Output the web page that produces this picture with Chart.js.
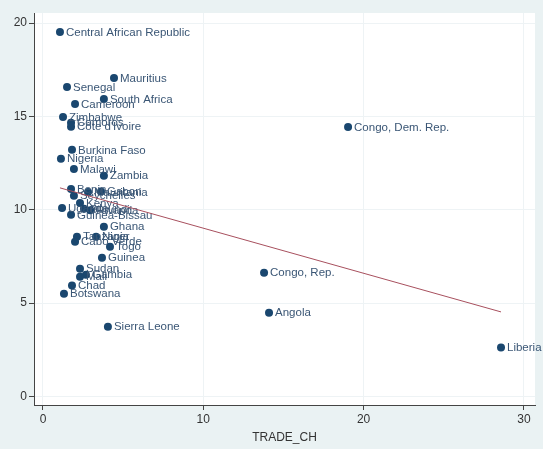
<!DOCTYPE html>
<html>
<head>
<meta charset="utf-8">
<script src="https://cdn.jsdelivr.net/npm/chart.js@4.4.1/dist/chart.umd.min.js"></script>
<style>
  html, body { margin: 0; padding: 0; background: #eaf2f3; }
  #wrap { width: 543px; height: 449px; }
</style>
</head>
<body>
<div id="wrap"><canvas id="c" width="543" height="449"></canvas></div>
<script>
// Country names, trade change (x) and outcome (y)
const countries = [
  "Central African Republic", "Mauritius", "Senegal", "South Africa", "Cameroon",
  "Zimbabwe", "Comoros", "Côte d'Ivoire", "Burkina Faso", "Nigeria", "Malawi", "Zambia",
  "Benin", "Mauritania", "Gabon", "Seychelles", "Kenya", "Uganda", "Burundi", "Rwanda",
  "Guinea-Bissau", "Ghana", "Tanzania", "Niger", "Cabo Verde", "Togo", "Guinea",
  "Sudan", "Gambia", "Mali", "Chad", "Botswana", "Sierra Leone",
  "Congo, Dem. Rep.", "Congo, Rep.", "Angola", "Liberia"
];
const tradeCh = [
  1.06, 4.43, 1.50, 3.80, 2.00,
  1.25, 1.75, 1.75, 1.81, 1.12, 1.93, 3.80,
  1.75, 2.81, 3.62, 1.93, 2.31, 1.19, 2.56, 2.95,
  1.75, 3.80, 2.12, 3.31, 2.00, 4.18, 3.68,
  2.31, 2.68, 2.31, 1.81, 1.31, 4.05,
  19.03, 13.79, 14.10, 28.57
];
const outcome = [
  19.52, 17.06, 16.58, 15.94, 15.67,
  14.97, 14.66, 14.45, 13.21, 12.73, 12.19, 11.82,
  11.12, 10.95, 10.98, 10.75, 10.37, 10.10, 10.05, 9.98,
  9.73, 9.09, 8.56, 8.56, 8.29, 8.02, 7.43,
  6.84, 6.52, 6.42, 5.94, 5.51, 3.74,
  14.44, 6.63, 4.49, 2.62
];

// Linear fit of outcome on TRADE_CH
const fitIntercept = 11.43;
const fitSlope = -0.2415;

const xTicks = [0, 10, 20, 30];
const yTicks = [0, 5, 10, 15, 20];
const xTitle = "TRADE_CH";

const points = tradeCh.map((x, i) => ({ x: x, y: outcome[i] }));
const xMin = Math.min(...tradeCh), xMax = Math.max(...tradeCh);
const fitLine = [xMin, xMax].map(x => ({ x: x, y: fitIntercept + fitSlope * x }));

const NAVY = '#1a476f';
const LABEL = '#3a5675';
const FONT = '"Liberation Sans", Arial, sans-serif';

const backdrop = {
  id: 'backdrop',
  beforeDraw(chart) {
    const { ctx, chartArea: a } = chart;
    ctx.save();
    ctx.fillStyle = '#eaf2f3';
    ctx.fillRect(0, 0, chart.width, chart.height);
    ctx.fillStyle = '#ffffff';
    ctx.fillRect(a.left, a.top, a.right - a.left, a.bottom - a.top);
    ctx.restore();
  }
};

const markerLabels = {
  id: 'markerLabels',
  afterDatasetDraw(chart, args) {
    if (args.index !== 0) return;
    const { ctx } = chart;
    const meta = chart.getDatasetMeta(0);
    ctx.save();
    ctx.font = '11.5px ' + FONT;
    ctx.fillStyle = LABEL;
    ctx.textBaseline = 'middle';
    ctx.textAlign = 'left';
    meta.data.forEach((pt, i) => {
      ctx.fillText(countries[i], pt.x + 6, pt.y + 0.5);
    });
    ctx.restore();
  }
};

new Chart(document.getElementById('c'), {
  data: {
    datasets: [
      {
        type: 'scatter',
        data: points,
        order: 2,
        pointRadius: 4,
        pointHoverRadius: 4,
        pointBackgroundColor: NAVY,
        pointBorderWidth: 0,
        borderColor: NAVY
      },
      {
        type: 'line',
        data: fitLine,
        order: 1,
        borderColor: '#a8505e',
        borderWidth: 1,
        pointRadius: 0,
        fill: false,
        tension: 0
      }
    ]
  },
  options: {
    responsive: false,
    animation: false,
    events: [],
    layout: { padding: { top: 13, right: 8, left: 0, bottom: 0 } },
    plugins: { legend: { display: false }, tooltip: { enabled: false } },
    scales: {
      x: {
        type: 'linear',
        min: -0.56,
        max: 30.69,
        afterBuildTicks: s => { s.ticks = xTicks.map(v => ({ value: v })); },
        afterFit: s => { s.height = 44; },
        grid: { color: '#eef3f5', tickColor: '#444', tickLength: 5, drawTicks: true },
        border: { color: '#444', width: 1 },
        ticks: { color: '#333', font: { family: FONT, size: 12 }, padding: 2, maxRotation: 0 },
        title: { display: true, text: xTitle, color: '#333', font: { family: FONT, size: 12 }, padding: { top: 0, bottom: 4 } }
      },
      y: {
        type: 'linear',
        min: -0.455,
        max: 20.54,
        afterBuildTicks: s => { s.ticks = yTicks.map(v => ({ value: v })); },
        afterFit: s => { s.width = 34; },
        grid: { color: '#eef3f5', tickColor: '#444', tickLength: 5, drawTicks: true },
        border: { color: '#444', width: 1 },
        ticks: { color: '#333', font: { family: FONT, size: 12 }, padding: 2 }
      }
    }
  },
  plugins: [backdrop, markerLabels]
});
</script>
</body>
</html>
